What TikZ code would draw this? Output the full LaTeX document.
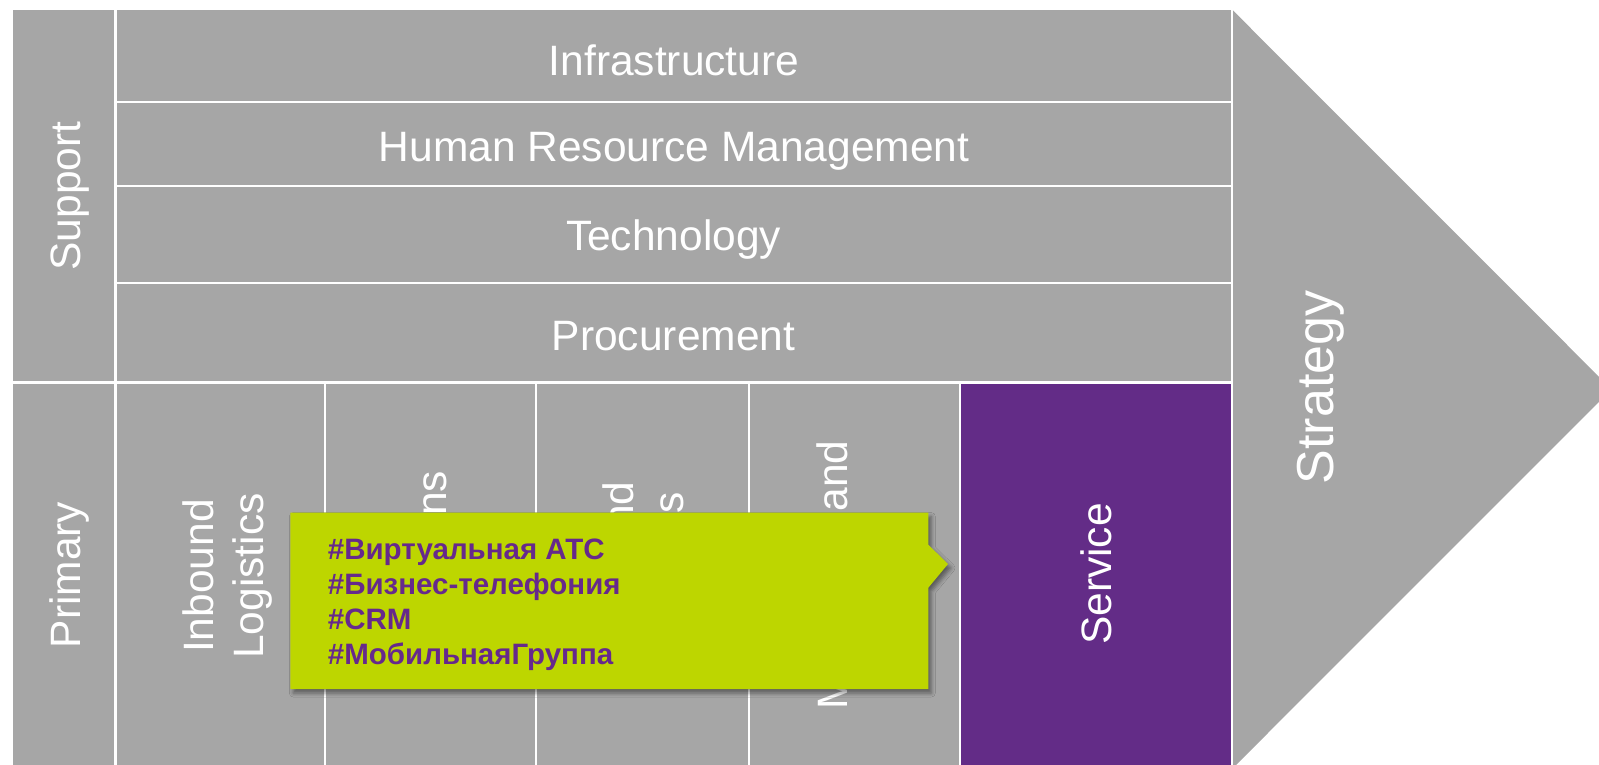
\documentclass[tikz,border=0pt]{standalone}
\usepackage{fontspec}
\setmainfont{Liberation Sans}
\usetikzlibrary{shapes.callouts,shadows.blur}
\definecolor{cellgray}{HTML}{A6A6A6}
\definecolor{svcpurple}{HTML}{632C87}
\definecolor{callgreen}{HTML}{BDD600}
\definecolor{tagpurple}{HTML}{66298C}
\begin{document}
\begin{tikzpicture}[x=1pt,y=-1pt,
  cell/.style={fill=cellgray,draw=white,line width=2.5pt},
  svccell/.style={fill=svcpurple,draw=white,line width=2.5pt},
  lbl/.style={text=white,inner sep=0pt,font=\fontsize{42.5}{50}\selectfont},
  vlbl/.style={lbl,rotate=90},
  tagtext/.style={text=tagpurple,inner sep=0pt,align=left,font=\bfseries\fontsize{29.5}{35}\selectfont}]
\useasboundingbox (0,0) rectangle (1599,765);
\clip (0,0) rectangle (1599,765);
% strategy arrow head
\fill[cellgray] (1232,9.5) -- (1611.5,389.3) -- (1232,769) -- cycle;
% support column and rows
\path[cell] (11.7,9.2) rectangle (115.5,382.5);
\path[cell] (115.5,9.2) rectangle (1232,102);
\path[cell] (115.5,102) rectangle (1232,186);
\path[cell] (115.5,186) rectangle (1232,283);
\path[cell] (115.5,283) rectangle (1232,382.5);
% primary columns
\path[cell] (11.7,382.5) rectangle (115.5,775);
\path[cell] (115.5,382.5) rectangle (325,775);
\path[cell] (325,382.5) rectangle (536,775);
\path[cell] (536,382.5) rectangle (749,775);
\path[cell] (749,382.5) rectangle (960,775);
\path[svccell] (960,382.5) rectangle (1232,775);
% labels
\node[lbl,anchor=base] (infra) at (674,75.7) {Infrastructure};
\node[lbl,anchor=base] (hrm) at (674,161.7) {Human Resource Management};
\node[lbl,anchor=base] (tech) at (673.5,250.7) {Technology};
\node[lbl,anchor=base] (proc) at (673.5,350) {Procurement};
\node[vlbl,anchor=base] (support) at (80,196) {Support};
\node[vlbl,anchor=base] (primary) at (80,575) {Primary};
\node[vlbl,align=center] (inbound) at (227.4,576) {Inbound\\Logistics};
\node[vlbl,anchor=base] (ops) at (446.5,575) {Operations};
\node[vlbl,align=center] (outbound) at (647.5,575) {Outbound\\Logistics};
\node[vlbl,align=center] (marketing) at (857,575) {Marketing and\\Sales};
\node[vlbl,anchor=base] (service) at (1111.7,574) {Service};
\node[vlbl,anchor=base,font=\fontsize{52}{60}\selectfont] (strategy) at (1333,387.5) {Strategy};
% callout
\node[rectangle callout,fill=callgreen,minimum width=638pt,minimum height=176.5pt,inner sep=0pt,
  callout absolute pointer={(948,564)},callout pointer width=43pt,
  blur shadow={shadow xshift=3pt,shadow yshift=-4pt,shadow blur radius=4pt,shadow opacity=45}]
  (callout) at (609.3,600.8) {};
\node[tagtext,anchor=north west] (tags) at (327.7,538.2)
  {\#Виртуальная АТС\\\#Бизнес-телефония\\\#CRM\\\#МобильнаяГруппа};
\end{tikzpicture}
\end{document}
